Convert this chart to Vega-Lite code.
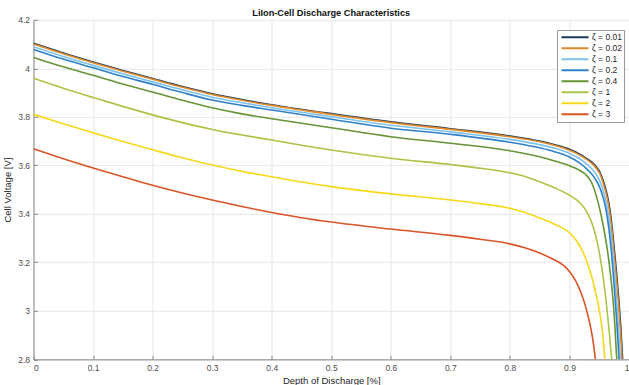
{
  "$schema": "https://vega.github.io/schema/vega-lite/v6.json",
  "width": 595.5,
  "height": 339.5,
  "autosize": {"type": "none"},
  "padding": {"left": 33.5, "top": 19.8, "right": 0, "bottom": 25.7},
  "background": "white",
  "title": {"text": "LiIon-Cell Discharge Characteristics", "font": "Liberation Sans", "fontSize": 9.2, "fontWeight": "bold", "color": "#111111", "offset": -2.5, "anchor": "middle"},
  "datasets": {
    "curves": [
      {"s": "ζ = 0.01", "d": 0, "v": 4.103}, {"s": "ζ = 0.01", "d": 0.05, "v": 4.063}, {"s": "ζ = 0.01", "d": 0.1, "v": 4.026}, {"s": "ζ = 0.01", "d": 0.15, "v": 3.991}, {"s": "ζ = 0.01", "d": 0.2, "v": 3.958}, {"s": "ζ = 0.01", "d": 0.25, "v": 3.925}, {"s": "ζ = 0.01", "d": 0.3, "v": 3.895}, {"s": "ζ = 0.01", "d": 0.35, "v": 3.871}, {"s": "ζ = 0.01", "d": 0.4, "v": 3.85}, {"s": "ζ = 0.01", "d": 0.5, "v": 3.813}, {"s": "ζ = 0.01", "d": 0.6, "v": 3.779}, {"s": "ζ = 0.01", "d": 0.7, "v": 3.751}, {"s": "ζ = 0.01", "d": 0.8, "v": 3.721}, {"s": "ζ = 0.01", "d": 0.85, "v": 3.7}, {"s": "ζ = 0.01", "d": 0.875, "v": 3.685}, {"s": "ζ = 0.01", "d": 0.9, "v": 3.666}, {"s": "ζ = 0.01", "d": 0.915, "v": 3.649}, {"s": "ζ = 0.01", "d": 0.926, "v": 3.633}, {"s": "ζ = 0.01", "d": 0.937, "v": 3.614}, {"s": "ζ = 0.01", "d": 0.945, "v": 3.594}, {"s": "ζ = 0.01", "d": 0.951, "v": 3.572}, {"s": "ζ = 0.01", "d": 0.956, "v": 3.541}, {"s": "ζ = 0.01", "d": 0.962, "v": 3.492}, {"s": "ζ = 0.01", "d": 0.966, "v": 3.446}, {"s": "ζ = 0.01", "d": 0.97, "v": 3.38}, {"s": "ζ = 0.01", "d": 0.9745, "v": 3.275}, {"s": "ζ = 0.01", "d": 0.979, "v": 3.16}, {"s": "ζ = 0.01", "d": 0.983, "v": 3.043}, {"s": "ζ = 0.01", "d": 0.986, "v": 2.94}, {"s": "ζ = 0.01", "d": 0.9893, "v": 2.8},

      {"s": "ζ = 0.02", "d": 0, "v": 4.1}, {"s": "ζ = 0.02", "d": 0.05, "v": 4.06}, {"s": "ζ = 0.02", "d": 0.1, "v": 4.023}, {"s": "ζ = 0.02", "d": 0.15, "v": 3.988}, {"s": "ζ = 0.02", "d": 0.2, "v": 3.955}, {"s": "ζ = 0.02", "d": 0.25, "v": 3.922}, {"s": "ζ = 0.02", "d": 0.3, "v": 3.892}, {"s": "ζ = 0.02", "d": 0.35, "v": 3.868}, {"s": "ζ = 0.02", "d": 0.4, "v": 3.847}, {"s": "ζ = 0.02", "d": 0.5, "v": 3.81}, {"s": "ζ = 0.02", "d": 0.6, "v": 3.776}, {"s": "ζ = 0.02", "d": 0.7, "v": 3.748}, {"s": "ζ = 0.02", "d": 0.8, "v": 3.718}, {"s": "ζ = 0.02", "d": 0.85, "v": 3.697}, {"s": "ζ = 0.02", "d": 0.875, "v": 3.682}, {"s": "ζ = 0.02", "d": 0.9, "v": 3.662}, {"s": "ζ = 0.02", "d": 0.915, "v": 3.645}, {"s": "ζ = 0.02", "d": 0.926, "v": 3.629}, {"s": "ζ = 0.02", "d": 0.937, "v": 3.609}, {"s": "ζ = 0.02", "d": 0.945, "v": 3.588}, {"s": "ζ = 0.02", "d": 0.951, "v": 3.565}, {"s": "ζ = 0.02", "d": 0.956, "v": 3.532}, {"s": "ζ = 0.02", "d": 0.962, "v": 3.48}, {"s": "ζ = 0.02", "d": 0.966, "v": 3.43}, {"s": "ζ = 0.02", "d": 0.97, "v": 3.36}, {"s": "ζ = 0.02", "d": 0.9745, "v": 3.25}, {"s": "ζ = 0.02", "d": 0.979, "v": 3.13}, {"s": "ζ = 0.02", "d": 0.983, "v": 3.01}, {"s": "ζ = 0.02", "d": 0.9858, "v": 2.91}, {"s": "ζ = 0.02", "d": 0.9883, "v": 2.8},

      {"s": "ζ = 0.1", "d": 0, "v": 4.089}, {"s": "ζ = 0.1", "d": 0.05, "v": 4.049}, {"s": "ζ = 0.1", "d": 0.1, "v": 4.012}, {"s": "ζ = 0.1", "d": 0.15, "v": 3.977}, {"s": "ζ = 0.1", "d": 0.2, "v": 3.944}, {"s": "ζ = 0.1", "d": 0.25, "v": 3.911}, {"s": "ζ = 0.1", "d": 0.3, "v": 3.881}, {"s": "ζ = 0.1", "d": 0.35, "v": 3.858}, {"s": "ζ = 0.1", "d": 0.4, "v": 3.837}, {"s": "ζ = 0.1", "d": 0.5, "v": 3.8}, {"s": "ζ = 0.1", "d": 0.6, "v": 3.765}, {"s": "ζ = 0.1", "d": 0.7, "v": 3.738}, {"s": "ζ = 0.1", "d": 0.8, "v": 3.707}, {"s": "ζ = 0.1", "d": 0.85, "v": 3.685}, {"s": "ζ = 0.1", "d": 0.875, "v": 3.67}, {"s": "ζ = 0.1", "d": 0.9, "v": 3.649}, {"s": "ζ = 0.1", "d": 0.915, "v": 3.63}, {"s": "ζ = 0.1", "d": 0.926, "v": 3.611}, {"s": "ζ = 0.1", "d": 0.937, "v": 3.587}, {"s": "ζ = 0.1", "d": 0.945, "v": 3.562}, {"s": "ζ = 0.1", "d": 0.951, "v": 3.535}, {"s": "ζ = 0.1", "d": 0.956, "v": 3.502}, {"s": "ζ = 0.1", "d": 0.961, "v": 3.455}, {"s": "ζ = 0.1", "d": 0.9655, "v": 3.395}, {"s": "ζ = 0.1", "d": 0.9695, "v": 3.32}, {"s": "ζ = 0.1", "d": 0.9735, "v": 3.22}, {"s": "ζ = 0.1", "d": 0.9775, "v": 3.1}, {"s": "ζ = 0.1", "d": 0.9815, "v": 2.96}, {"s": "ζ = 0.1", "d": 0.9854, "v": 2.8},

      {"s": "ζ = 0.2", "d": 0, "v": 4.078}, {"s": "ζ = 0.2", "d": 0.05, "v": 4.038}, {"s": "ζ = 0.2", "d": 0.1, "v": 4.002}, {"s": "ζ = 0.2", "d": 0.15, "v": 3.966}, {"s": "ζ = 0.2", "d": 0.2, "v": 3.934}, {"s": "ζ = 0.2", "d": 0.25, "v": 3.9}, {"s": "ζ = 0.2", "d": 0.3, "v": 3.869}, {"s": "ζ = 0.2", "d": 0.35, "v": 3.847}, {"s": "ζ = 0.2", "d": 0.4, "v": 3.828}, {"s": "ζ = 0.2", "d": 0.5, "v": 3.79}, {"s": "ζ = 0.2", "d": 0.6, "v": 3.753}, {"s": "ζ = 0.2", "d": 0.7, "v": 3.728}, {"s": "ζ = 0.2", "d": 0.8, "v": 3.695}, {"s": "ζ = 0.2", "d": 0.85, "v": 3.672}, {"s": "ζ = 0.2", "d": 0.875, "v": 3.656}, {"s": "ζ = 0.2", "d": 0.9, "v": 3.634}, {"s": "ζ = 0.2", "d": 0.915, "v": 3.613}, {"s": "ζ = 0.2", "d": 0.926, "v": 3.592}, {"s": "ζ = 0.2", "d": 0.937, "v": 3.565}, {"s": "ζ = 0.2", "d": 0.945, "v": 3.537}, {"s": "ζ = 0.2", "d": 0.951, "v": 3.508}, {"s": "ζ = 0.2", "d": 0.956, "v": 3.472}, {"s": "ζ = 0.2", "d": 0.9605, "v": 3.428}, {"s": "ζ = 0.2", "d": 0.9645, "v": 3.37}, {"s": "ζ = 0.2", "d": 0.9685, "v": 3.29}, {"s": "ζ = 0.2", "d": 0.972, "v": 3.2}, {"s": "ζ = 0.2", "d": 0.9755, "v": 3.09}, {"s": "ζ = 0.2", "d": 0.9795, "v": 2.95}, {"s": "ζ = 0.2", "d": 0.9833, "v": 2.8},

      {"s": "ζ = 0.4", "d": 0, "v": 4.045}, {"s": "ζ = 0.4", "d": 0.05, "v": 4.006}, {"s": "ζ = 0.4", "d": 0.1, "v": 3.971}, {"s": "ζ = 0.4", "d": 0.15, "v": 3.935}, {"s": "ζ = 0.4", "d": 0.2, "v": 3.902}, {"s": "ζ = 0.4", "d": 0.25, "v": 3.868}, {"s": "ζ = 0.4", "d": 0.3, "v": 3.837}, {"s": "ζ = 0.4", "d": 0.35, "v": 3.812}, {"s": "ζ = 0.4", "d": 0.4, "v": 3.792}, {"s": "ζ = 0.4", "d": 0.5, "v": 3.755}, {"s": "ζ = 0.4", "d": 0.6, "v": 3.718}, {"s": "ζ = 0.4", "d": 0.7, "v": 3.691}, {"s": "ζ = 0.4", "d": 0.8, "v": 3.66}, {"s": "ζ = 0.4", "d": 0.85, "v": 3.635}, {"s": "ζ = 0.4", "d": 0.875, "v": 3.618}, {"s": "ζ = 0.4", "d": 0.9, "v": 3.598}, {"s": "ζ = 0.4", "d": 0.915, "v": 3.582}, {"s": "ζ = 0.4", "d": 0.926, "v": 3.565}, {"s": "ζ = 0.4", "d": 0.937, "v": 3.53}, {"s": "ζ = 0.4", "d": 0.945, "v": 3.475}, {"s": "ζ = 0.4", "d": 0.951, "v": 3.418}, {"s": "ζ = 0.4", "d": 0.956, "v": 3.36}, {"s": "ζ = 0.4", "d": 0.9605, "v": 3.3}, {"s": "ζ = 0.4", "d": 0.9637, "v": 3.251}, {"s": "ζ = 0.4", "d": 0.967, "v": 3.19}, {"s": "ζ = 0.4", "d": 0.9705, "v": 3.115}, {"s": "ζ = 0.4", "d": 0.974, "v": 3.02}, {"s": "ζ = 0.4", "d": 0.9765, "v": 2.93}, {"s": "ζ = 0.4", "d": 0.9787, "v": 2.83}, {"s": "ζ = 0.4", "d": 0.9795, "v": 2.8},

      {"s": "ζ = 1", "d": 0, "v": 3.959}, {"s": "ζ = 1", "d": 0.05, "v": 3.918}, {"s": "ζ = 1", "d": 0.1, "v": 3.88}, {"s": "ζ = 1", "d": 0.15, "v": 3.843}, {"s": "ζ = 1", "d": 0.2, "v": 3.808}, {"s": "ζ = 1", "d": 0.25, "v": 3.776}, {"s": "ζ = 1", "d": 0.3, "v": 3.748}, {"s": "ζ = 1", "d": 0.35, "v": 3.725}, {"s": "ζ = 1", "d": 0.4, "v": 3.704}, {"s": "ζ = 1", "d": 0.45, "v": 3.683}, {"s": "ζ = 1", "d": 0.5, "v": 3.663}, {"s": "ζ = 1", "d": 0.6, "v": 3.629}, {"s": "ζ = 1", "d": 0.7, "v": 3.603}, {"s": "ζ = 1", "d": 0.75, "v": 3.588}, {"s": "ζ = 1", "d": 0.8, "v": 3.569}, {"s": "ζ = 1", "d": 0.825, "v": 3.554}, {"s": "ζ = 1", "d": 0.85, "v": 3.532}, {"s": "ζ = 1", "d": 0.875, "v": 3.507}, {"s": "ζ = 1", "d": 0.9, "v": 3.477}, {"s": "ζ = 1", "d": 0.91, "v": 3.461}, {"s": "ζ = 1", "d": 0.92, "v": 3.439}, {"s": "ζ = 1", "d": 0.93, "v": 3.404}, {"s": "ζ = 1", "d": 0.938, "v": 3.36}, {"s": "ζ = 1", "d": 0.945, "v": 3.3}, {"s": "ζ = 1", "d": 0.951, "v": 3.228}, {"s": "ζ = 1", "d": 0.9565, "v": 3.141}, {"s": "ζ = 1", "d": 0.962, "v": 3.031}, {"s": "ζ = 1", "d": 0.9665, "v": 2.921}, {"s": "ζ = 1", "d": 0.971, "v": 2.8},

      {"s": "ζ = 2", "d": 0, "v": 3.81}, {"s": "ζ = 2", "d": 0.05, "v": 3.771}, {"s": "ζ = 2", "d": 0.1, "v": 3.734}, {"s": "ζ = 2", "d": 0.15, "v": 3.698}, {"s": "ζ = 2", "d": 0.2, "v": 3.664}, {"s": "ζ = 2", "d": 0.25, "v": 3.631}, {"s": "ζ = 2", "d": 0.3, "v": 3.601}, {"s": "ζ = 2", "d": 0.35, "v": 3.575}, {"s": "ζ = 2", "d": 0.4, "v": 3.553}, {"s": "ζ = 2", "d": 0.45, "v": 3.531}, {"s": "ζ = 2", "d": 0.5, "v": 3.512}, {"s": "ζ = 2", "d": 0.6, "v": 3.482}, {"s": "ζ = 2", "d": 0.7, "v": 3.457}, {"s": "ζ = 2", "d": 0.75, "v": 3.442}, {"s": "ζ = 2", "d": 0.8, "v": 3.423}, {"s": "ζ = 2", "d": 0.825, "v": 3.405}, {"s": "ζ = 2", "d": 0.85, "v": 3.383}, {"s": "ζ = 2", "d": 0.875, "v": 3.357}, {"s": "ζ = 2", "d": 0.9, "v": 3.322}, {"s": "ζ = 2", "d": 0.91, "v": 3.295}, {"s": "ζ = 2", "d": 0.92, "v": 3.255}, {"s": "ζ = 2", "d": 0.93, "v": 3.198}, {"s": "ζ = 2", "d": 0.938, "v": 3.135}, {"s": "ζ = 2", "d": 0.945, "v": 3.065}, {"s": "ζ = 2", "d": 0.951, "v": 2.99}, {"s": "ζ = 2", "d": 0.9555, "v": 2.91}, {"s": "ζ = 2", "d": 0.9593, "v": 2.8},

      {"s": "ζ = 3", "d": 0, "v": 3.668}, {"s": "ζ = 3", "d": 0.05, "v": 3.627}, {"s": "ζ = 3", "d": 0.1, "v": 3.589}, {"s": "ζ = 3", "d": 0.15, "v": 3.553}, {"s": "ζ = 3", "d": 0.2, "v": 3.518}, {"s": "ζ = 3", "d": 0.25, "v": 3.486}, {"s": "ζ = 3", "d": 0.3, "v": 3.457}, {"s": "ζ = 3", "d": 0.35, "v": 3.43}, {"s": "ζ = 3", "d": 0.4, "v": 3.405}, {"s": "ζ = 3", "d": 0.45, "v": 3.384}, {"s": "ζ = 3", "d": 0.5, "v": 3.366}, {"s": "ζ = 3", "d": 0.6, "v": 3.337}, {"s": "ζ = 3", "d": 0.7, "v": 3.311}, {"s": "ζ = 3", "d": 0.75, "v": 3.295}, {"s": "ζ = 3", "d": 0.8, "v": 3.276}, {"s": "ζ = 3", "d": 0.825, "v": 3.26}, {"s": "ζ = 3", "d": 0.85, "v": 3.238}, {"s": "ζ = 3", "d": 0.87, "v": 3.216}, {"s": "ζ = 3", "d": 0.89, "v": 3.187}, {"s": "ζ = 3", "d": 0.9, "v": 3.162}, {"s": "ζ = 3", "d": 0.91, "v": 3.125}, {"s": "ζ = 3", "d": 0.92, "v": 3.07}, {"s": "ζ = 3", "d": 0.928, "v": 3.01}, {"s": "ζ = 3", "d": 0.934, "v": 2.95}, {"s": "ζ = 3", "d": 0.939, "v": 2.885}, {"s": "ζ = 3", "d": 0.9436, "v": 2.8}
    ]
  },
  "data": {"name": "curves"},
  "mark": {"type": "line", "strokeWidth": 1.6, "interpolate": "monotone", "clip": true},
  "encoding": {
    "x": {
      "field": "d", "type": "quantitative",
      "scale": {"domain": [0, 1], "nice": false},
      "axis": {"title": "Depth of Discharge [%]", "values": [0, 0.1, 0.2, 0.3, 0.4, 0.5, 0.6, 0.7, 0.8, 0.9, 1], "format": ".1~f", "labelPadding": 8, "titlePadding": 3.5}
    },
    "y": {
      "field": "v", "type": "quantitative",
      "scale": {"domain": [2.8, 4.2], "nice": false, "zero": false},
      "axis": {"title": "Cell Voltage [V]", "values": [2.8, 3, 3.2, 3.4, 3.6, 3.8, 4, 4.2], "format": ".1~f", "labelPadding": 8, "titlePadding": 5}
    },
    "color": {
      "field": "s", "type": "nominal",
      "scale": {
        "domain": ["ζ = 0.01", "ζ = 0.02", "ζ = 0.1", "ζ = 0.2", "ζ = 0.4", "ζ = 1", "ζ = 2", "ζ = 3"],
        "range": ["#1b3a5c", "#e08a2c", "#7cc3ef", "#2f80c7", "#669436", "#a9c545", "#f7d81a", "#db5427"]
      },
      "legend": {
        "title": null, "orient": "none", "legendX": 523.5, "legendY": 10.2,
        "strokeColor": "#999999", "fillColor": "white", "padding": 2,
        "symbolType": "stroke", "symbolSize": 729, "symbolStrokeWidth": 2,
        "symbolOffset": 1.5, "clipHeight": 10.4,
        "labelFont": "Liberation Sans", "labelFontSize": 8.5, "labelColor": "#262626",
        "rowPadding": 0, "labelOffset": 2.5
      }
    }
  },
  "config": {
    "view": {"stroke": null},
    "axis": {
      "domainColor": "#888888", "domainWidth": 1,
      "tickColor": "#888888", "tickSize": -4,
      "gridColor": "#e6e6e6", "gridWidth": 1,
      "labelFont": "Liberation Sans", "labelFontSize": 8.5, "labelColor": "#4d4d4d",
      "titleFont": "Liberation Sans", "titleFontSize": 9.5, "titleFontWeight": "normal", "titleColor": "#262626"
    }
  }
}
